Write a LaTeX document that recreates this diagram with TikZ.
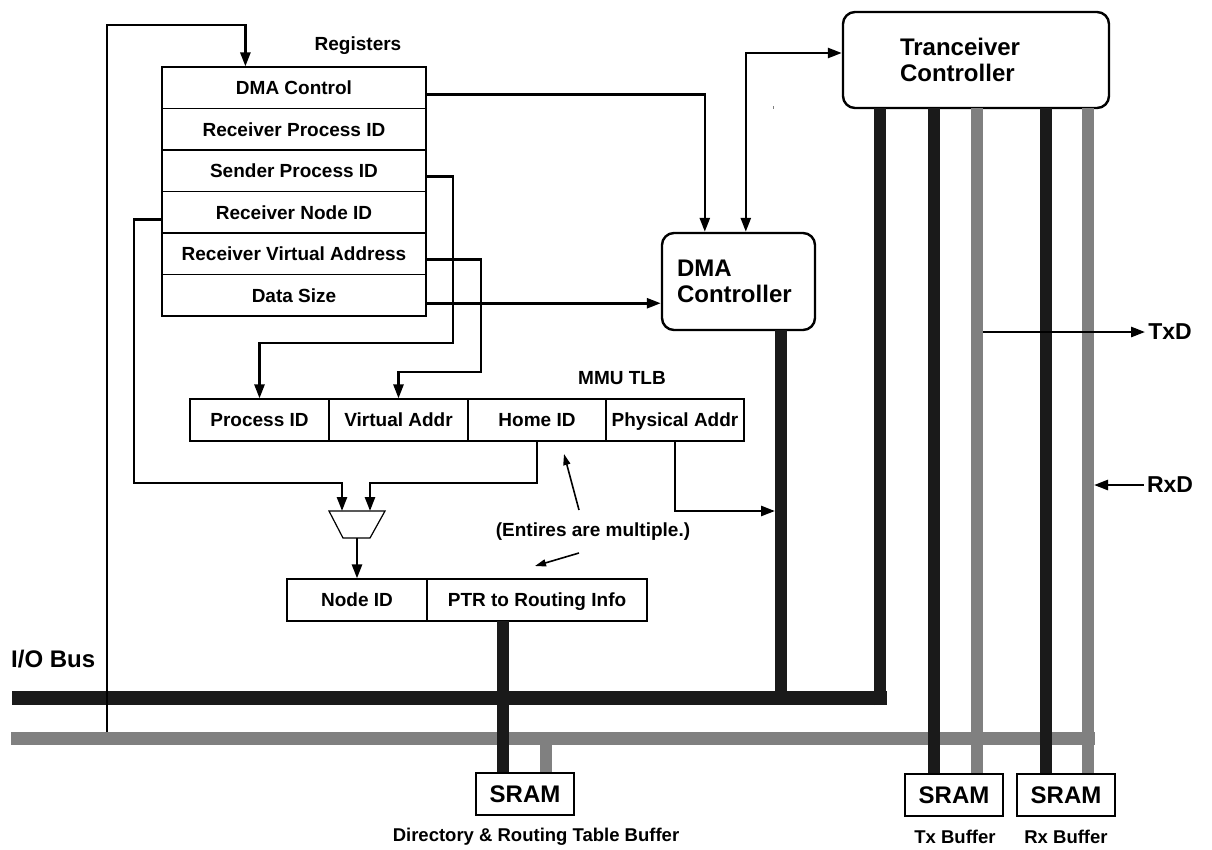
\documentclass[tikz,border=0pt]{standalone}
\usepackage{fontspec}
\setmainfont{Liberation Sans}
\usetikzlibrary{arrows.meta,calc}
\definecolor{barblack}{HTML}{1A1A1A}
\definecolor{bargray}{HTML}{808080}
\begin{document}
\begin{tikzpicture}[x=1pt,y=-1pt,
  lbl/.style={font=\fontsize{19}{22}\selectfont\bfseries},
  big/.style={font=\fontsize{24}{26}\selectfont\bfseries},
  reg/.style={draw,line width=1.2pt,minimum width=264pt,minimum height=41.5pt,inner sep=0pt,text height=16pt,text depth=2.4pt,lbl},
  cell/.style={draw,line width=1.2pt,minimum height=42pt,inner sep=0pt,text height=16pt,text depth=2.4pt,lbl},
  sram/.style={draw,fill=white,line width=1.4pt,minimum width=98pt,minimum height=42pt,inner sep=0pt,big},
  ctrl/.style={draw,fill=white,line width=2.4pt,rounded corners=12pt,inner ysep=0pt,align=left,big},
  wire/.style={line width=2.6pt},
  arr/.style={wire,-{Triangle[length=14pt,width=10pt]}},
  darr/.style={wire,{Triangle[length=14pt,width=10pt]}-{Triangle[length=14pt,width=10pt]}},
  note/.style={line width=1.6pt,-{Triangle[length=11pt,width=7pt]}},
  bk/.style={line width=12pt,draw=barblack},
  gy/.style={line width=12pt,draw=bargray},
]
\useasboundingbox (0,0) rectangle (1212,849);

% ---------- controllers ----------
\node[ctrl,minimum width=153pt,minimum height=97pt,inner xsep=15pt,text width=123pt] (dma) at (738.5,281.5) {DMA\\Controller};
\node[ctrl,minimum width=266pt,minimum height=96pt,inner xsep=57pt,text width=152pt] (tc) at (976,60) {Tranceiver\\Controller};

% ---------- buses ----------
\draw[gy,line width=13pt] (11,738) -- (1095,738);
\draw[bk,line width=14pt] (12,698) -- (887,698);
\draw[bk] (880,705) -- (880,108);
\draw[bk] (781,330) -- (781,698);
\draw[bk] (934,108) -- (934,774);
\draw[gy] (977,108) -- (977,774);
\draw[bk] (1046,108) -- (1046,774);
\draw[gy] (1088,108) -- (1088,774);
\draw[gy] (546,738) -- (546,773);

% ---------- registers ----------
\node[lbl] (reglbl) at (358,46) {Registers};
\node[reg] (r1) at (294,87.75) {DMA Control};
\node[reg] (r2) at (294,129.25) {Receiver Process ID};
\node[reg] (r3) at (294,170.75) {Sender Process ID};
\node[reg] (r4) at (294,212.25) {Receiver Node ID};
\node[reg] (r5) at (294,253.75) {Receiver Virtual Address};
\node[reg] (r6) at (294,295.25) {Data Size};

% ---------- MMU TLB ----------
\node[lbl] (tlblbl) at (622,378) {MMU TLB};
\node[cell,minimum width=139pt] (tpid) at (259.5,420) {Process ID};
\node[cell,minimum width=139pt] (tva) at (398.5,420) {Virtual Addr};
\node[cell,minimum width=138pt] (thome) at (537,420) {Home ID};
\node[cell,minimum width=138pt] (tphys) at (675,420) {Physical Addr};

% ---------- selector ----------
\draw[line width=1.2pt] (329,511) -- (385,511) -- (370,538) -- (343,538) -- cycle;
\coordinate (muxL) at (342,511);
\coordinate (muxR) at (370,511);
\coordinate (muxB) at (357,538);

% ---------- routing entry ----------
\node[cell,minimum width=140pt] (nid) at (357,600) {Node ID};
\node[cell,minimum width=220pt] (ptr) at (537,600) {PTR to Routing Info};
\draw[bk] (503,621) -- (503,773);

% ---------- SRAMs ----------
\node[sram] (s1) at (525,794) {SRAM};
\node[sram] (s2) at (954,795) {SRAM};
\node[sram] (s3) at (1066,795) {SRAM};
\node[lbl,font=\fontsize{18.5}{22}\selectfont\bfseries] (s1lbl) at (536,837) {Directory \& Routing Table Buffer};
\node[lbl,font=\fontsize{18.5}{22}\selectfont\bfseries] (s2lbl) at (955,837) {Tx Buffer};
\node[lbl,font=\fontsize{18.5}{22}\selectfont\bfseries] (s3lbl) at (1066,837) {Rx Buffer};
\node[big,anchor=west,inner sep=0pt] (iolbl) at (11,659) {I/O Bus};

% ---------- TxD / RxD ----------
\node[big,font=\fontsize{23}{25}\selectfont\bfseries,inner sep=0pt] (txd) at (1170,332) {TxD};
\node[big,font=\fontsize{23}{25}\selectfont\bfseries,inner sep=0pt] (rxd) at (1170,485) {RxD};
\coordinate (txo) at (983,332);
\coordinate (rxi) at (1094,485);
\draw[arr] (txo) -- ([xshift=-3pt]txd.west);
\draw[arr] ([xshift=-3pt]rxd.west) -- (rxi);

% ---------- connectors ----------
\coordinate (g1) at (107,732);
\draw[arr] (g1) -- (107,25) -| ($(r1.north west)+(84,0)$);
\coordinate (dcOut) at ($(r1.east)+(0,7)$);
\draw[arr] (dcOut) -| ($(dma.north west)+(44,0)$);
\draw[darr] ($(dma.north west)+(85,0)$) |- ($(tc.west)+(0,-7)$);
\coordinate (spOut) at ($(r3.east)+(0,6)$);
\draw[arr] (spOut) -| (453,343) -| (tpid.north);
\coordinate (vaOut) at ($(r5.east)+(0,6)$);
\draw[arr] (vaOut) -| (481,372) -| (tva.north);
\coordinate (dsOut) at ($(r6.east)+(0,8)$);
\draw[arr] (dsOut) -- (dsOut -| dma.west);
\coordinate (rnOut) at ($(r4.west)+(0,7)$);
\draw[arr] (rnOut) -| (134,483) -| (muxL);
\draw[arr] (thome.south) |- (370,483) -- (muxR);
\draw[arr] (muxB) -- (nid.north);
\coordinate (pa) at (775,511);
\draw[arr] (tphys.south) |- (pa);

% ---------- note ----------
\node[lbl] (notelbl) at (593,532) {(Entires are multiple.)};
\draw[note] (579,510) -- (564,454);
\draw[note] (579,553) -- (535,566);

% stray mark
\fill[bargray] (772.5,106) rectangle (773.5,109);
\end{tikzpicture}
\end{document}
